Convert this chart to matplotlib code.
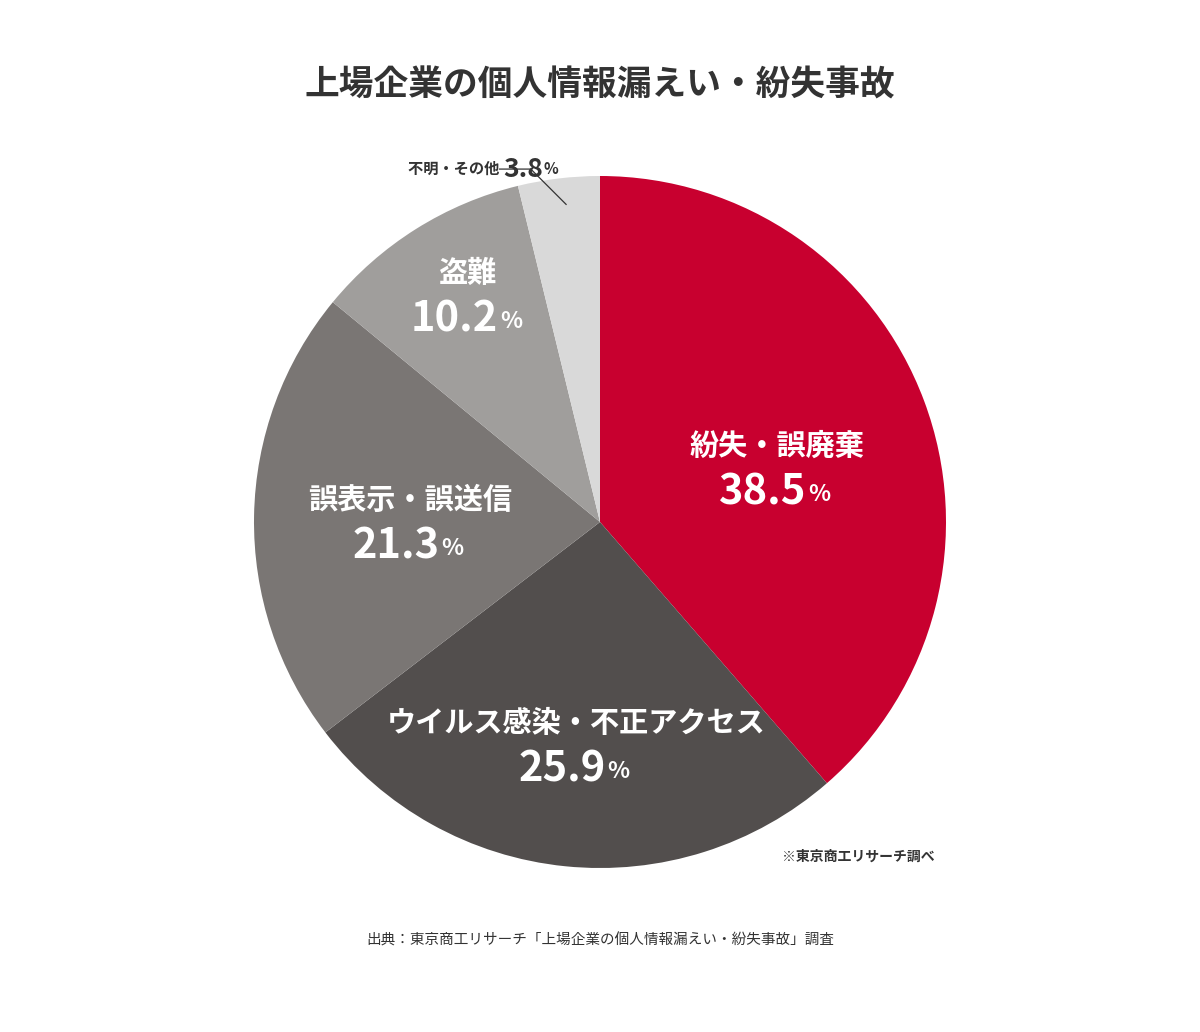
import matplotlib
matplotlib.use("Agg")
import matplotlib.pyplot as plt

plt.rcParams["font.family"] = "Noto Sans CJK JP"

labels = ["紛失・誤廃棄", "ウイルス感染・不正アクセス", "誤表示・誤送信", "盗難", "不明・その他"]
values = [38.5, 25.9, 21.3, 10.2, 3.8]
colors = ["#C8002F", "#524E4D", "#7A7674", "#A09E9C", "#D9D9D9"]

fig = plt.figure(figsize=(12, 10.32), dpi=100)
fig.patch.set_facecolor("white")
ax = fig.add_axes([346 / 1200 * 0 + 254 / 1200, 164 / 1032, 692 / 1200, 692 / 1032])
ax.pie(values, colors=colors, startangle=90, counterclock=False,
       wedgeprops=dict(linewidth=0), radius=1)
ax.set_xlim(-1, 1)
ax.set_ylim(-1, 1)
ax.set_aspect("equal")
ax.axis("off")


def pct_label(x, y, name, val, size=21, num_size=30):
    ax.text(x, y, name, ha="center", va="center", color="white",
            fontsize=size, fontweight="bold")
    t = ax.text(x - 0.04, y - 0.135, f"{val}", ha="center", va="center",
                color="white", fontsize=num_size, fontweight="bold")
    ax.annotate("%", xy=(1.02, 0.18), xycoords=t, ha="left", va="bottom",
                color="white", fontsize=num_size * 0.55, fontweight="bold")


pct_label(0.51, 0.22, "紛失・誤廃棄", values[0])
pct_label(-0.07, -0.58, "ウイルス感染・不正アクセス", values[1])
pct_label(-0.55, 0.065, "誤表示・誤送信", values[2])
pct_label(-0.38, 0.72, "盗難", values[3])

# small slice, label outside
t = ax.text(-0.28, 1.02, "不明・その他 ", ha="right", va="center",
            fontsize=11, fontweight="bold", color="#333333")
t2 = ax.annotate("3.8", xy=(1.0, 0.5), xycoords=t, ha="left", va="center",
                 fontsize=19, fontweight="bold", color="#333333")
ax.annotate("%", xy=(1.02, 0.2), xycoords=t2, ha="left", va="bottom",
            fontsize=11, fontweight="bold", color="#333333")
ax.plot([-0.29, -0.2, -0.098], [1.02, 1.02, 0.918], color="#333333", lw=0.9,
        clip_on=False)
ax.set_xlim(-1, 1)
ax.set_ylim(-1, 1)

fig.text(0.5, 1 - 85 / 1032, "上場企業の個人情報漏えい・紛失事故", ha="center",
         va="center", fontsize=25, fontweight="bold", color="#333333")
fig.text(935 / 1200, 1 - 857 / 1032, "※東京商工リサーチ調べ", ha="right",
         va="center", fontsize=10, fontweight="bold", color="#333333")
fig.text(0.5, 1 - 940 / 1032,
         "出典：東京商工リサーチ「上場企業の個人情報漏えい・紛失事故」調査",
         ha="center", va="center", fontsize=10.5, color="#333333")

fig.savefig("out.png", dpi=100)
